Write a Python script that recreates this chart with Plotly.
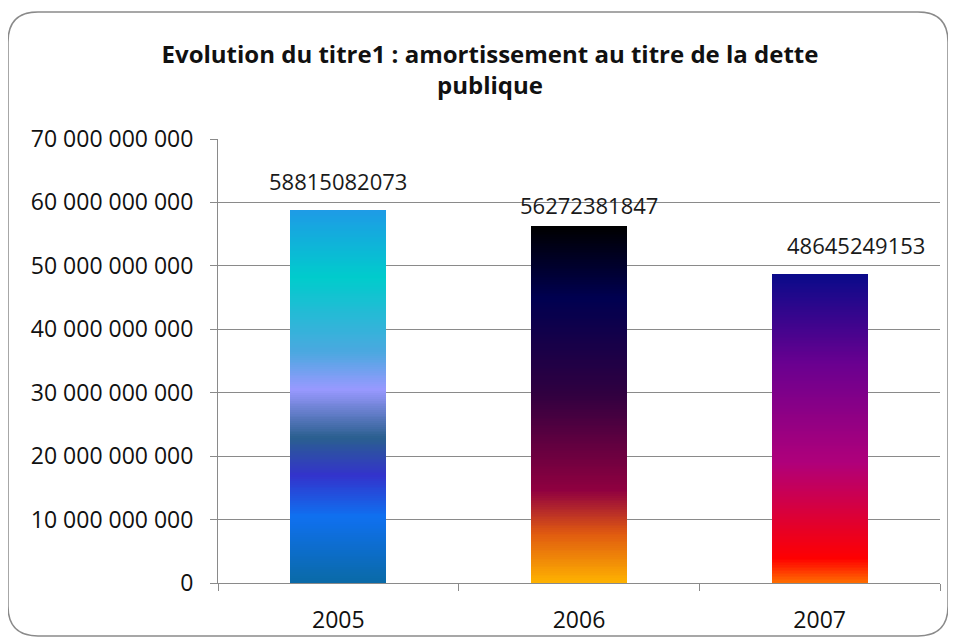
import plotly.graph_objects as go

# data
years = ["2005", "2006", "2007"]
amounts = [58815082073, 56272381847, 48645249153]
y_ticks = [0, 10e9, 20e9, 30e9, 40e9, 50e9, 60e9, 70e9]

title_text = "Evolution du titre1 : amortissement au titre de la dette<br>publique"

# gradient stops for each bar: (fraction from bottom, colour)
gradients = [
    [(0.0, "#0a6aa6"), (0.18, "#0f70f0"), (0.29, "#3333cc"), (0.39, "#2a5f8f"),
     (0.52, "#9999ff"), (0.62, "#4ba8e0"), (0.82, "#00cccc"), (1.0, "#1e9be6")],
    [(0.0, "#ffb400"), (0.14, "#e05a10"), (0.26, "#900040"), (0.53, "#300040"),
     (0.80, "#000050"), (1.0, "#000000")],
    [(0.0, "#ff7000"), (0.08, "#ff0000"), (0.39, "#b0007a"), (0.71, "#6a0090"),
     (1.0, "#0a0a8a")],
]
label_shift = [(0, 12), (10, 4), (36, 12)]

N_SEG = 200


def hex_rgb(h):
    h = h.lstrip("#")
    return tuple(int(h[i:i + 2], 16) for i in (0, 2, 4))


def color_at(stops, f):
    for (f0, c0), (f1, c1) in zip(stops, stops[1:]):
        if f0 <= f <= f1:
            t = (f - f0) / (f1 - f0) if f1 > f0 else 0
            a, b = hex_rgb(c0), hex_rgb(c1)
            r = [round(a[k] + (b[k] - a[k]) * t) for k in range(3)]
            return "rgb(%d,%d,%d)" % tuple(r)
    return stops[-1][1]


fig = go.Figure()

# each bar is a stack of thin slices to fake the gradient fill
for i in range(N_SEG):
    f = (i + 0.5) / N_SEG
    cols = [color_at(g, f) for g in gradients]
    fig.add_trace(go.Bar(
        x=years,
        y=[v / N_SEG for v in amounts],
        marker=dict(color=cols, line=dict(width=0)),
        width=0.4,
        hoverinfo="skip",
        showlegend=False,
    ))

# data labels (category index on x so plotly doesn't read "2005" as a position)
for idx, (v, (dx, dy)) in enumerate(zip(amounts, label_shift)):
    fig.add_annotation(x=idx, y=v, text=str(v), showarrow=False,
                       yanchor="bottom", xshift=dx, yshift=dy,
                       font=dict(family="Open Sans", size=22, color="#1a1a1a"))

# page has an 8px body margin, so figure coords = page coords - 8
L, R, T, B = 210, 932, 131, 575
def px(x):
    return (x - L) / (R - L)
def py(y):
    return (B - y) / (B - T)

# rounded frame around the whole chart
x0, x1, y0, y1, rad = 0, 940, 4, 628, 30
path = ("M %f,%f L %f,%f Q %f,%f %f,%f L %f,%f Q %f,%f %f,%f L %f,%f Q %f,%f %f,%f L %f,%f Q %f,%f %f,%f Z" % (
    px(x0 + rad), py(y0), px(x1 - rad), py(y0), px(x1), py(y0), px(x1), py(y0 + rad),
    px(x1), py(y1 - rad), px(x1), py(y1), px(x1 - rad), py(y1),
    px(x0 + rad), py(y1), px(x0), py(y1), px(x0), py(y1 - rad),
    px(x0), py(y0 + rad), px(x0), py(y0), px(x0 + rad), py(y0)))
fig.add_shape(type="path", path=path, xref="paper", yref="paper",
              line=dict(color="#8a8a8a", width=1.5), layer="below")

fig.update_layout(
    barmode="stack",
    bargap=0,
    width=956, height=643,
    margin=dict(l=L, r=956 - R, t=T, b=643 - B, autoexpand=False),
    paper_bgcolor="white",
    plot_bgcolor="white",
    separators=", ",
    title=dict(text=title_text, x=482 / 956, xref="container", xanchor="center",
               y=1 - 55 / 643, yref="container", yanchor="top",
               font=dict(family="Open Sans", size=24, color="#111111", weight="bold")),
    font=dict(family="Open Sans", size=23, color="#111111"),
    xaxis=dict(type="category", showline=True, linecolor="#8a8a8a", linewidth=1,
               ticks="outside", tickson="boundaries", ticklen=7, tickcolor="#8a8a8a",
               ticklabelstandoff=16,
               showgrid=False, tickfont=dict(size=23), tickangle=0, automargin=False),
    yaxis=dict(range=[0, 70e9], tickvals=y_ticks, tickformat=",d",
               showline=True, linecolor="#8a8a8a", linewidth=1,
               ticks="outside", ticklen=7, tickcolor="#8a8a8a", ticklabelstandoff=12,
               showgrid=True, gridcolor="#8a8a8a", gridwidth=1,
               zeroline=False, tickfont=dict(size=23), automargin=False),
)

fig.write_html("out.html")
